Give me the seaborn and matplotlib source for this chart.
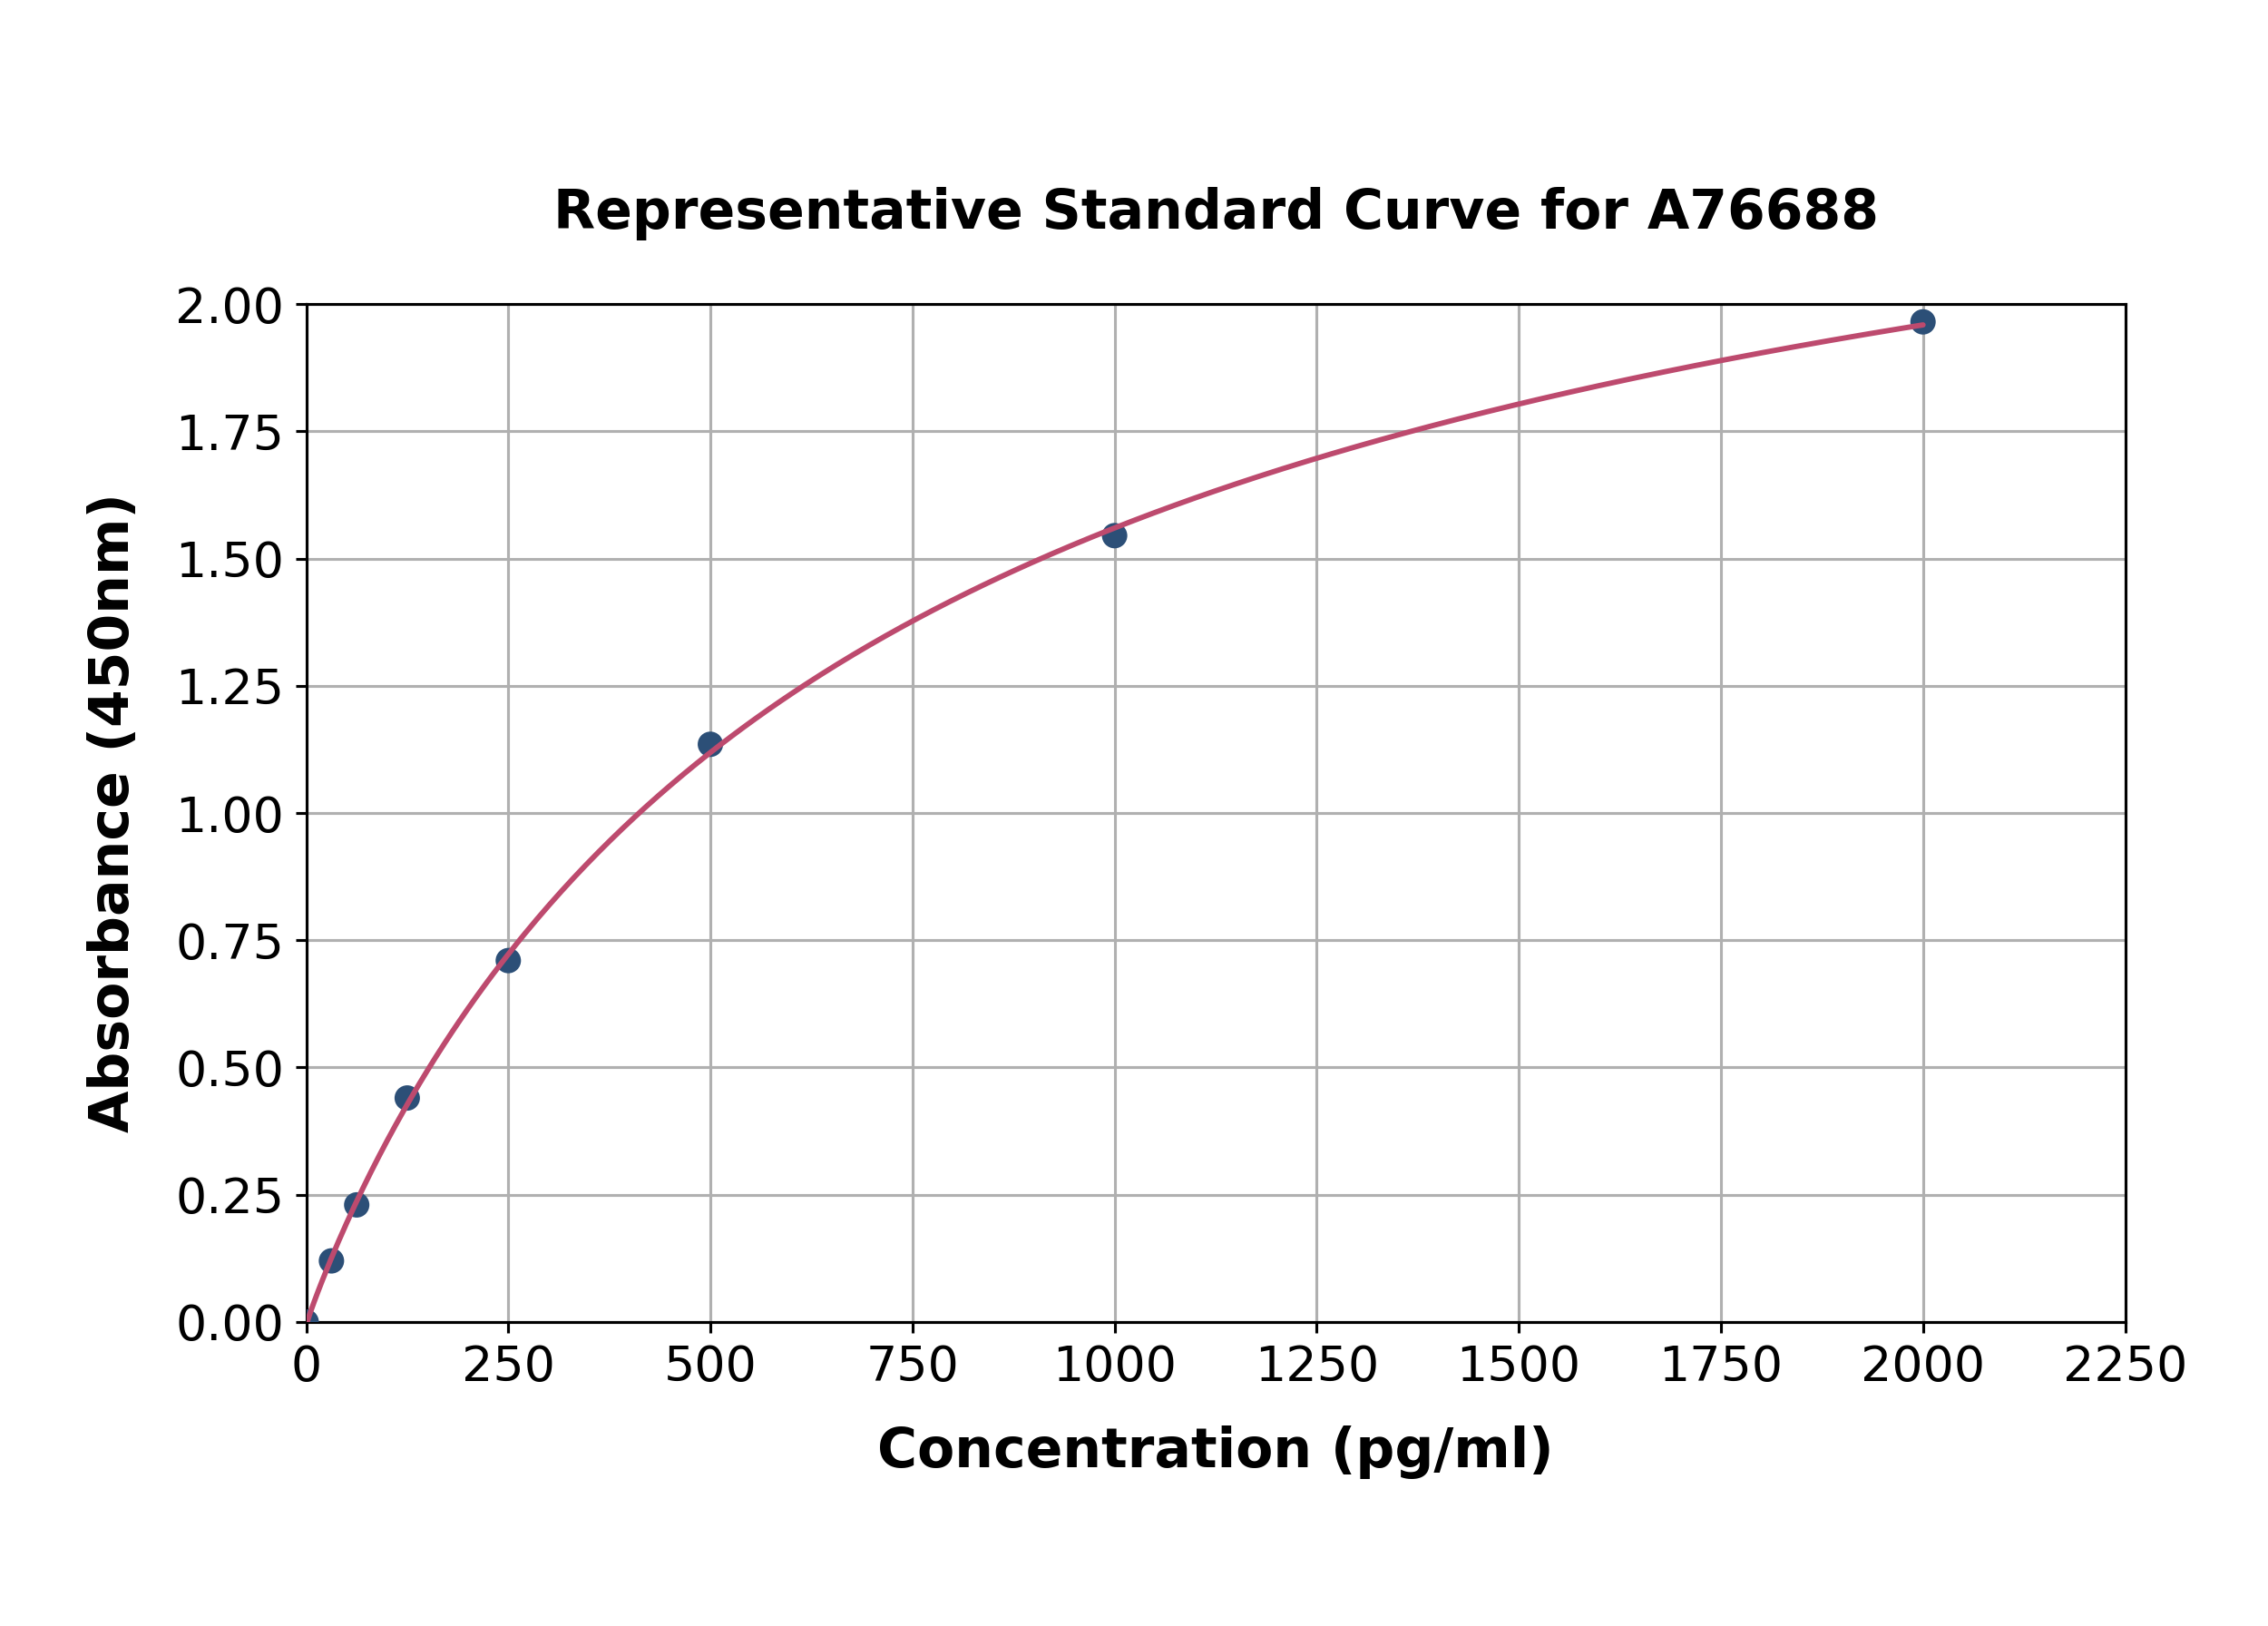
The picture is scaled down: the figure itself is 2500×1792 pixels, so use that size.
import numpy as np
import pandas as pd
import matplotlib
matplotlib.use("Agg")
import matplotlib.pyplot as plt
import seaborn as sns

# standard points
conc = [0, 31.25, 62.5, 125, 250, 500, 1000, 2000]
absorb = [0.0, 0.12, 0.23, 0.44, 0.71, 1.135, 1.545, 1.965]

x_ticks = [0, 250, 500, 750, 1000, 1250, 1500, 1750, 2000, 2250]
y_ticks = [0.0, 0.25, 0.5, 0.75, 1.0, 1.25, 1.5, 1.75, 2.0]

title = "Representative Standard Curve for A76688"
x_label = "Concentration (pg/ml)"
y_label = "Absorbance (450nm)"

df = pd.DataFrame({"conc": conc, "od": absorb})


# 4PL fit: for fixed b, c the model is linear in a, d
def fit_4pl(x, y):
    x = np.asarray(x, float)
    y = np.asarray(y, float)
    best = None
    for b in np.linspace(0.5, 2.0, 151):
        for c in np.geomspace(100, 20000, 300):
            t = (x / c) ** b
            A = np.column_stack([1 / (1 + t), t / (1 + t)])
            coef, *_ = np.linalg.lstsq(A, y, rcond=None)
            err = np.sum((A @ coef - y) ** 2)
            if best is None or err < best[0]:
                best = (err, coef[0], coef[1], b, c)
    return best[1:]


a, d, b, c = fit_4pl(df["conc"], df["od"])
xs = np.linspace(0, max(conc), 400)
t = (xs / c) ** b
fit = pd.DataFrame({"conc": xs, "od": a / (1 + t) + d * t / (1 + t)})

sns.set_style("ticks")
plt.rcParams["font.family"] = ["DejaVu Sans"]
plt.rcParams["text.color"] = "black"
plt.rcParams["axes.labelcolor"] = "black"
plt.rcParams["xtick.color"] = "black"
plt.rcParams["ytick.color"] = "black"

fig = plt.figure(figsize=(10, 7.168), dpi=250)
ax = fig.add_axes([0.135, 0.187, 0.802, 0.626])

sns.scatterplot(x="conc", y="od", data=df, ax=ax, color="#2c4f77",
                s=65, edgecolor="none", zorder=3)
sns.lineplot(x="conc", y="od", data=fit, ax=ax, color="#bd4a6e",
             linewidth=1.7, zorder=4)

ax.set_xlim(0, 2250)
ax.set_ylim(0, 2.0)
ax.set_xticks(x_ticks)
ax.set_yticks(y_ticks)
ax.set_yticklabels([f"{v:.2f}" for v in y_ticks])
ax.grid(True, color="#b0b0b0", linewidth=0.9)
ax.set_axisbelow(True)
for s in ax.spines.values():
    s.set_color("black")
    s.set_linewidth(0.9)
ax.tick_params(labelsize=15.5, length=3.5, width=0.9, color="black",
               labelcolor="black")

ax.set_title(title, fontsize=17.3, fontweight="bold", pad=24, color="black")
ax.set_xlabel(x_label, fontsize=17.3, fontweight="bold", labelpad=11)
ax.set_ylabel(y_label, fontsize=17.3, fontweight="bold", labelpad=11)

fig.savefig("out.png", dpi=250)
